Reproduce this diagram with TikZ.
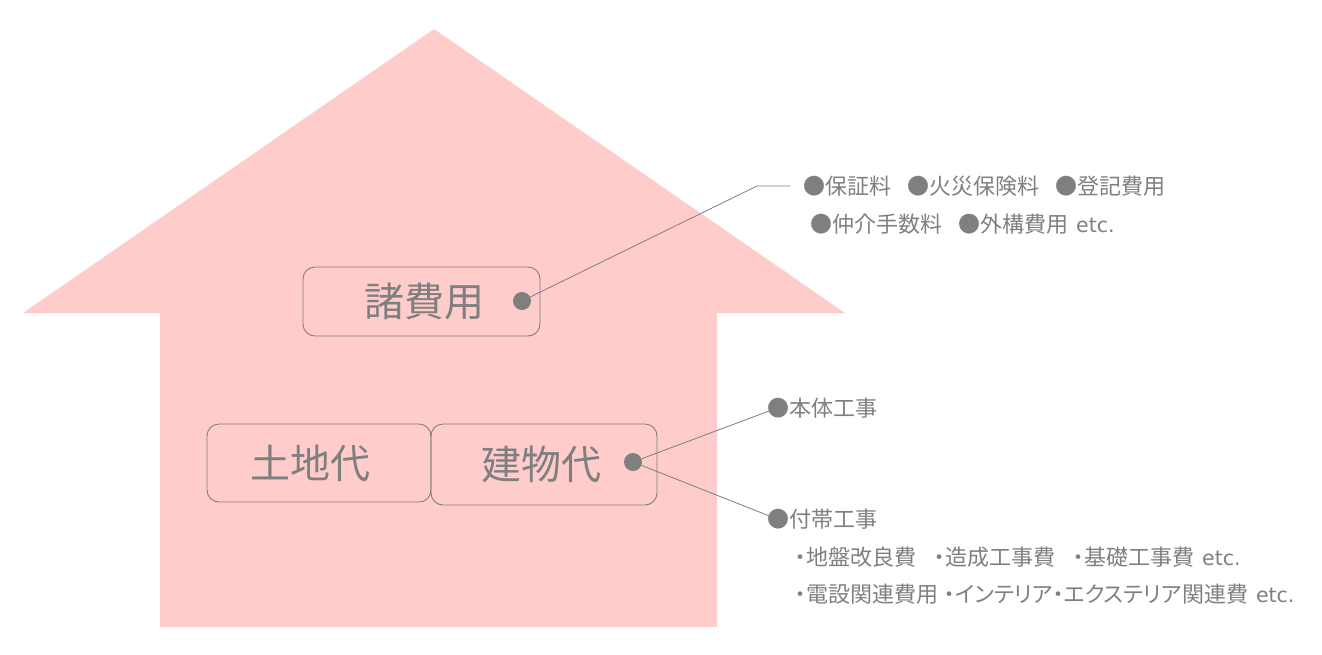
\documentclass[tikz,border=0pt]{standalone}
\usepackage{fontspec}
\setmainfont[RawFeature=+palt]{Noto Sans CJK JP}
\newfontfamily\latinwide{DejaVu Sans}
\definecolor{housepink}{RGB}{255,204,204}
\definecolor{txtgray}{RGB}{127,127,127}
\newcommand{\etcw}{\hspace{8pt}{\latinwide\fontsize{20.5}{20.5}\selectfont etc.}}
\tikzset{
  box/.style={draw=txtgray, line width=0.9pt, rounded corners=12pt, text=txtgray, font=\fontsize{40}{40}\selectfont, inner sep=0pt},
  dotc/.style={circle, fill=txtgray, inner sep=0pt, minimum width=18pt, minimum height=17pt},
  conn/.style={draw=txtgray, line width=0.8pt},
  lst/.style={text=txtgray, font=\fontsize{22}{22}\selectfont, inner sep=0pt, anchor=west}
}
\begin{document}
\begin{tikzpicture}[x=1pt,y=-1pt]
\useasboundingbox (0,0) rectangle (1322,654);
\fill[housepink] (434,29) -- (845,313) -- (717,313) -- (717,627) -- (160,627) -- (160,313) -- (23,313) -- cycle;
% boxes
\node[box, minimum width=237pt, minimum height=69pt] (shohiyo) at (421.5,301.5) {\mbox{}\hspace{5pt}諸費用};
\node[box, minimum width=224pt, minimum height=78pt] (tochi) at (319,463) {土地代\hspace{18pt}\mbox{}};
\node[box, minimum width=226pt, minimum height=81pt] (tatemono) at (544,464.5) {建物代\hspace{6pt}\mbox{}};
\node[dotc] (d1) at (522,301) {};
\node[dotc] (d2) at (633,462) {};
% connector ends
\coordinate (k1) at (757,186);
\coordinate (k1e) at (790,186);
\coordinate (hontai) at (777,408);
\coordinate (futai) at (777,519);
\draw[conn] (d1) -- (k1) -- (k1e);
\draw[conn] (d2) -- (hontai);
\draw[conn] (d2) -- (futai);
% texts
\node[lst] (s1) at (803,186) {●保証料\hspace{16pt}●火災保険料\hspace{16pt}●登記費用};
\node[lst] (s2) at (810,224) {●仲介手数料\hspace{16pt}●外構費用\etcw};
\node[lst] (h1) at (767,408) {●本体工事};
\node[lst] (f1) at (767,519) {●付帯工事};
\node[lst] (f2) at (795,557) {・地盤改良費\hspace{18pt}・造成工事費\hspace{18pt}・基礎工事費\etcw};
\node[lst] (f3) at (795,594) {・電設関連費用\hspace{6pt}・インテリア・エクステリア関連費\etcw};
\end{tikzpicture}
\end{document}
